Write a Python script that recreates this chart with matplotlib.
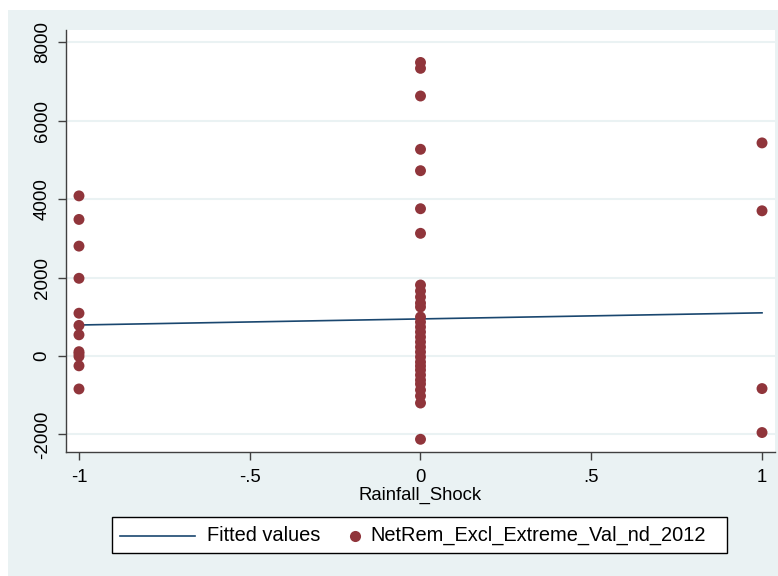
import matplotlib
matplotlib.use("Agg")
import matplotlib.pyplot as plt
from matplotlib.patches import Rectangle
from matplotlib.lines import Line2D
from matplotlib import font_manager

plt.rcParams['font.family'] = ['Liberation Sans', 'DejaVu Sans']

# Data
x_neg = [-1] * 12
y_neg = [4080, 3480, 2800, 1980, 1090, 780, 540, 110, 60, -10, -250, -840]

x_zero_vals = [7480, 7330, 6625, 5267, 4722, 3753, 3126,
               1809, 1656, 1503, 1350, 1249, 994, 866, 739, 612, 484, 357,
               229, 102, -25, -153, -255, -357, -484, -612, -713, -866,
               -1019, -1198, -2122]
x_zero = [0] * len(x_zero_vals)

x_pos = [1] * 4
y_pos = [5430, 3700, -830, -1950]

fit_x = [-1, 1]
fit_y = [790, 1100]

xticks = [-1, -0.5, 0, 0.5, 1]
xticklabels = ['-1', '-.5', '0', '.5', '1']
yticks = [-2000, 0, 2000, 4000, 6000, 8000]
legend_labels = ['Fitted values', 'NetRem_Excl_Extreme_Val_nd_2012']

bg = '#eaf2f3'
navy = '#1a476f'
maroon = '#90353b'
FS = 13.3
LFS = 14.4

names = {f.name for f in font_manager.fontManager.ttflist}
if 'Liberation Sans Narrow' in names:
    yfont = dict(family='Liberation Sans Narrow', size=16)
else:
    yfont = dict(family='Liberation Sans', size=13.5)

W, H = 778, 576
fig = plt.figure(figsize=(W / 100, H / 100), dpi=100, facecolor='white')
fig.patches.append(Rectangle((8 / W, 0 / H), (W - 8) / W, (H - 10) / H,
                             transform=fig.transFigure, facecolor=bg,
                             edgecolor='none', zorder=-10))

left, right, top, bottom = 66, 775, 30, 452
ax = fig.add_axes([left / W, (H - bottom) / H, (right - left) / W, (bottom - top) / H])
ax.set_facecolor('white')

ax.plot(fit_x, fit_y, color=navy, lw=1.2, zorder=2)
pts_x = x_neg + x_zero + x_pos
pts_y = y_neg + x_zero_vals + y_pos
ax.scatter(pts_x, pts_y, s=62, color=maroon, edgecolors='none', zorder=3)

ax.set_xlim(-1.038, 1.038)
ax.set_ylim(-2446, 8307)
ax.set_xticks(xticks)
ax.set_xticklabels(xticklabels, fontsize=FS)
ax.set_yticks(yticks)
ax.set_yticklabels([str(v) for v in yticks], rotation=90, va='center', **yfont)
ax.grid(axis='y', color=bg, lw=1.5, zorder=1)
ax.set_axisbelow(True)
for s in ['top', 'right']:
    ax.spines[s].set_visible(False)
for s in ['left', 'bottom']:
    ax.spines[s].set_color('#404040')
    ax.spines[s].set_linewidth(1.0)
ax.tick_params(axis='both', direction='out', length=6, width=1.0, color='#404040',
               labelcolor='black')
ax.tick_params(axis='x', pad=6)
ax.tick_params(axis='y', pad=5)
ax.set_xlabel('Rainfall_Shock', fontsize=FS, labelpad=1)

# Legend drawn in figure pixel coordinates (Stata-style layout)
def fx(px):
    return px / W

def fy(py):
    return (H - py) / H

fig.patches.append(Rectangle((fx(112), fy(553)), (727 - 112) / W, (553 - 517) / H,
                             transform=fig.transFigure, facecolor='white',
                             edgecolor='black', lw=1.0, zorder=5))
ly = 535.5
fig.lines.append(Line2D([fx(120), fx(195)], [fy(ly), fy(ly)], transform=fig.transFigure,
                        color=navy, lw=1.2, zorder=6))
fig.text(fx(207), fy(ly), legend_labels[0], fontsize=LFS, va='center', ha='left', zorder=6)
fig.lines.append(Line2D([fx(355)], [fy(ly)], transform=fig.transFigure, marker='o',
                        ls='none', color=maroon, markersize=8, markeredgecolor='none',
                        zorder=6))
fig.text(fx(370), fy(ly), legend_labels[1], fontsize=LFS, va='center', ha='left', zorder=6)

fig.savefig('out.png', dpi=100, facecolor=fig.get_facecolor())
